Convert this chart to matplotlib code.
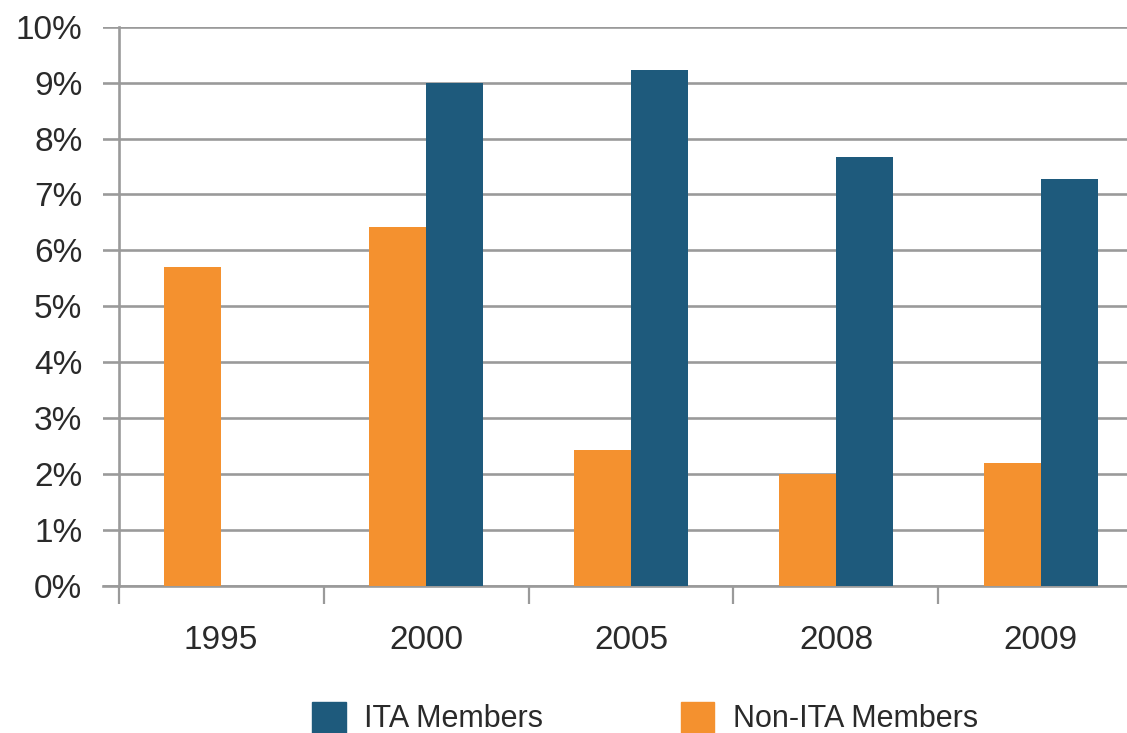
import matplotlib
matplotlib.use('Agg')
import matplotlib.pyplot as plt
from matplotlib.patches import Patch
from matplotlib.ticker import FixedLocator, FuncFormatter
import numpy as np

years = ['1995', '2000', '2005', '2008', '2009']
ita_members = [np.nan, 9.0, 9.23, 7.67, 7.27]
non_ita_members = [5.71, 6.42, 2.43, 2.01, 2.20]

BLUE = '#1E5A7C'
ORANGE = '#F4912F'
GRID = '#9A9A9A'
TEXT = '#2A2A2A'

plt.rcParams['font.family'] = ['Liberation Sans', 'DejaVu Sans']

fig = plt.figure(figsize=(11.27, 7.33), dpi=100)
ax = fig.add_axes([103 / 1127, 1 - 586 / 733, 1 - 103 / 1127, (586 - 26.7) / 733])

x = np.arange(len(years))
w = 0.278
ax.bar(x - w / 2, non_ita_members, width=w, color=ORANGE, zorder=3, label='Non-ITA Members')
ax.bar(x + w / 2, ita_members, width=w, color=BLUE, zorder=3, label='ITA Members')

ax.set_ylim(0, 10)
ax.set_xlim(-0.576, 4.42)

# horizontal grid, reaching a little past the y axis
ax.yaxis.set_major_locator(FixedLocator(range(0, 11)))
ax.yaxis.set_major_formatter(FuncFormatter(lambda v, p: f'{int(v)}%'))
ax.grid(axis='y', color=GRID, linewidth=1.9, zorder=1)
ax.tick_params(axis='y', length=0, pad=15, labelsize=24, labelcolor=TEXT)
for lbl in ax.get_yticklabels():
    lbl.set_fontweight('light')

# category dividers as major ticks, year labels on minor ticks
ax.xaxis.set_major_locator(FixedLocator(np.arange(-0.5, 4.0, 1.0)))
ax.xaxis.set_major_formatter(FuncFormatter(lambda v, p: ''))
ax.xaxis.set_minor_locator(FixedLocator(x))
ax.set_xticklabels(years, minor=True)
ax.tick_params(axis='x', which='major', length=13, width=1.6, color=GRID, direction='out')
ax.tick_params(axis='x', which='minor', length=0, pad=28, labelsize=24, labelcolor=TEXT)

for s in ['top', 'right']:
    ax.spines[s].set_visible(False)
ax.spines['left'].set_position(('data', -0.5))
ax.spines['left'].set_color(GRID)
ax.spines['left'].set_linewidth(1.9)
ax.spines['bottom'].set_color(GRID)
ax.spines['bottom'].set_linewidth(1.9)

# y labels sit further left of the grid start
ax.tick_params(axis='y', pad=26)

handles = [Patch(color=BLUE, label='ITA Members'), Patch(color=ORANGE, label='Non-ITA Members')]
fig.legend(handles=handles, loc='center', bbox_to_anchor=(645 / 1127, 15 / 733), ncol=2,
           frameon=False, fontsize=22, handlelength=1.1, handleheight=1.2,
           handletextpad=0.6, columnspacing=4.5, borderpad=0, labelcolor=TEXT)

fig.savefig('out.png', dpi=100)
